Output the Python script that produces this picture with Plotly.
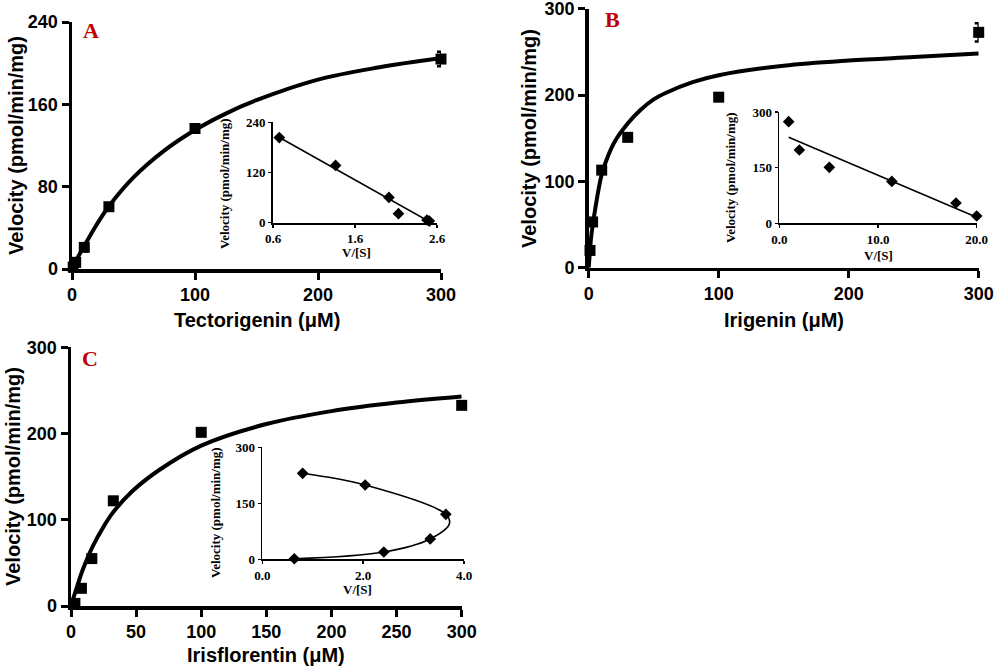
import plotly.graph_objects as go

# ---------------- data ----------------
# Panel A : Tectorigenin
A_conc = [1, 3, 10, 30, 100, 300]
A_vel = [1.8, 6.5, 21, 60.5, 136.5, 204]
A_err = [0, 0, 0, 0, 0, 7]
A_fit_x = [0, 3, 10, 20, 30, 50, 75, 100, 125, 150, 200, 250, 300]
A_fit_y = [0, 7.5, 22.5, 43, 61, 89, 115, 135, 151, 164, 184, 196, 205]
A_ins_x = [0.677, 1.363, 2.014, 2.13, 2.478, 2.506]
A_ins_y = [203.5, 136.8, 60.5, 21.5, 6.4, 4]
A_ins_fit_x = [0.668, 2.53]
A_ins_fit_y = [205, 0]

# Panel B : Irigenin
B_conc = [1, 3, 10, 30, 100, 300]
B_vel = [20, 53, 113, 151, 197.5, 272.6]
B_err = [0, 0, 0, 0, 0, 10.6]
B_fit_x = [0, 1, 2, 5, 10, 15, 20, 30, 40, 50, 60, 80, 100, 150, 200, 250, 300]
B_fit_y = [0, 20, 37, 68, 108, 130, 146, 167, 183, 195, 203, 215, 223, 234, 240, 244, 248]
B_ins_x = [0.95, 2.03, 5.07, 11.4, 17.9, 20.0]
B_ins_y = [273.9, 197.6, 151, 113, 54.7, 19.7]
B_ins_fit_x = [0.95, 20.0]
B_ins_fit_y = [231.8, 16.2]

# Panel C : Irisflorentin
C_conc = [3, 8, 16, 32.5, 100, 300]
C_vel = [3, 20.5, 55, 122, 201.4, 232.7]
C_err = [0, 0, 0, 0, 0, 0]
C_fit_x = [0, 2, 5, 9, 16.6, 25, 32, 47, 68, 100, 150, 200, 250, 300]
C_fit_y = [0, 10, 24, 42, 69, 92, 108, 133, 158, 186, 211, 226, 236, 243]
C_ins_x = [0.80, 2.04, 3.64, 3.33, 2.41, 0.635]
C_ins_y = [230.4, 199, 120.5, 54.5, 19.6, 1.5]
C_ins_curve_x = [0.80, 2.04, 3.64, 3.71, 3.33, 2.41, 0.635]
C_ins_curve_y = [230.4, 199, 120.5, 95, 54.5, 19.6, 1.5]

# tick labels
A_xticks = [0, 100, 200, 300]
A_yticks = [0, 80, 160, 240]
B_xticks = [0, 100, 200, 300]
B_yticks = [0, 100, 200, 300]
C_xticks = [0, 50, 100, 150, 200, 250, 300]
C_yticks = [0, 100, 200, 300]
A_ins_xticks = [0.6, 1.6, 2.6]
A_ins_xtext = ["0.6", "1.6", "2.6"]
A_ins_yticks = [0, 120, 240]
B_ins_xticks = [0, 10, 20]
B_ins_xtext = ["0.0", "10.0", "20.0"]
B_ins_yticks = [0, 150, 300]
C_ins_xticks = [0, 2, 4]
C_ins_xtext = ["0.0", "2.0", "4.0"]
C_ins_yticks = [0, 150, 300]

Y_TITLE = "Velocity (pmol/min/mg)"
INS_X_TITLE = "V/[S]"

# ---------------- layout helpers ----------------
# body margin is removed by post_script, so the figure fills the window
FW, FH = 996, 670
def px(x):
    return x / FW
def py(y):
    return 1 - y / FH

SANS = "Liberation Sans, Arial, sans-serif"
SERIF = "Liberation Serif, Times New Roman, serif"

fig = go.Figure()


def add_main(n, xs, ys, err, fx, fy):
    xa, ya = "x" + n, "y" + n
    fig.add_trace(go.Scatter(x=fx, y=fy, mode="lines",
                             line=dict(color="black", width=4, shape="spline"),
                             xaxis=xa, yaxis=ya, hoverinfo="skip", cliponaxis=False,
                             showlegend=False))
    fig.add_trace(go.Scatter(x=xs, y=ys, mode="markers",
                             marker=dict(symbol="square", size=11, color="black"),
                             error_y=dict(type="data", array=err, visible=True, color="black",
                                          thickness=2.5, width=4),
                             xaxis=xa, yaxis=ya, cliponaxis=False, showlegend=False))


def add_inset(n, xs, ys, lx, ly, spline=False):
    xa, ya = "x" + n, "y" + n
    fig.add_trace(go.Scatter(x=lx, y=ly, mode="lines",
                             line=dict(color="black", width=1.6,
                                       shape="spline" if spline else "linear"),
                             xaxis=xa, yaxis=ya, hoverinfo="skip", cliponaxis=False,
                             showlegend=False))
    fig.add_trace(go.Scatter(x=xs, y=ys, mode="markers",
                             marker=dict(symbol="diamond", size=9, color="black"),
                             xaxis=xa, yaxis=ya, cliponaxis=False, showlegend=False))


add_main("", A_conc, A_vel, A_err, A_fit_x, A_fit_y)
add_inset("2", A_ins_x, A_ins_y, A_ins_fit_x, A_ins_fit_y)
add_main("3", B_conc, B_vel, B_err, B_fit_x, B_fit_y)
add_inset("4", B_ins_x, B_ins_y, B_ins_fit_x, B_ins_fit_y)
add_main("5", C_conc, C_vel, C_err, C_fit_x, C_fit_y)
add_inset("6", C_ins_x, C_ins_y, C_ins_curve_x, C_ins_curve_y, spline=True)


def main_axis(dom, rng, ticks, anchor):
    return dict(domain=dom, range=rng, tickvals=ticks, anchor=anchor,
                automargin=False, ticklabeloverflow="allow",
                showline=True, linewidth=3.5, linecolor="black", mirror=False,
                ticks="outside", ticklen=7, tickwidth=3, tickcolor="black",
                showgrid=False, zeroline=False, fixedrange=True,
                tickfont=dict(family=SANS, size=18, color="black", weight="bold"))


def inset_axis(dom, rng, ticks, anchor, text=None):
    d = dict(domain=dom, range=rng, tickvals=ticks, anchor=anchor,
             automargin=False, ticklabeloverflow="allow",
             showline=True, linewidth=1.8, linecolor="black",
             ticks="outside", ticklen=3, tickwidth=1.5, tickcolor="black",
             showgrid=False, zeroline=False, fixedrange=True,
             tickfont=dict(family=SERIF, size=13, color="black", weight="bold"))
    if text is not None:
        d["ticktext"] = text
    return d


fig.update_layout(
    template="none",
    width=FW, height=FH,
    margin=dict(l=0, r=0, t=0, b=0, pad=0, autoexpand=False),
    paper_bgcolor="white", plot_bgcolor="rgba(0,0,0,0)",
    showlegend=False,
    xaxis=main_axis([px(72), px(441)], [0, 300], A_xticks, "y"),
    yaxis=main_axis([py(269), py(22)], [0, 240], A_yticks, "x"),
    xaxis2=inset_axis([px(273), px(437)], [0.6, 2.6], A_ins_xticks, "y2", A_ins_xtext),
    yaxis2=inset_axis([py(222.7), py(122.3)], [0, 240], A_ins_yticks, "x2"),
    xaxis3=main_axis([px(588.7), px(978.7)], [0, 300], B_xticks, "y3"),
    yaxis3=main_axis([py(267.7), py(8.7)], [0, 300], B_yticks, "x3"),
    xaxis4=inset_axis([px(779.3), px(976.7)], [0, 20], B_ins_xticks, "y4", B_ins_xtext),
    yaxis4=inset_axis([py(223.3), py(112)], [0, 300], B_ins_yticks, "x4"),
    xaxis5=main_axis([px(71), px(461.7)], [0, 300], C_xticks, "y5"),
    yaxis5=main_axis([py(606), py(347.3)], [0, 300], C_yticks, "x5"),
    xaxis6=inset_axis([px(262.3), px(464)], [0, 4], C_ins_xticks, "y6", C_ins_xtext),
    yaxis6=inset_axis([py(559.3), py(447.3)], [0, 300], C_ins_yticks, "x6"),
)

ann = []


def text(x, y, s, font, angle=0):
    ann.append(dict(x=px(x), y=py(y), xref="paper", yref="paper", text=s,
                    showarrow=False, xanchor="center", yanchor="middle",
                    textangle=angle, font=font))


main_title_font = dict(family=SANS, size=20, color="black", weight="bold")
inset_title_font = dict(family=SERIF, size=13, color="black", weight="bold")
letter_font = dict(family=SERIF, size=22, color="#C00000", weight="bold")

# main axis titles
text(256.5, 320, "Tectorigenin (μM)", main_title_font)
text(16, 146, Y_TITLE, main_title_font, -90)
text(783.7, 320, "Irigenin (μM)", main_title_font)
text(529, 139, Y_TITLE, main_title_font, -90)
text(266, 655, "Irisflorentin (μM)", main_title_font)
text(13, 477, Y_TITLE, main_title_font, -90)

# inset titles
text(225, 184, Y_TITLE, inset_title_font, -90)
text(356, 252, INS_X_TITLE, inset_title_font)
text(731, 178, Y_TITLE, inset_title_font, -90)
text(878, 256, INS_X_TITLE, inset_title_font)
text(215, 513, Y_TITLE, inset_title_font, -90)
text(357, 589, INS_X_TITLE, inset_title_font)

# panel letters
text(91, 31, "A", letter_font)
text(612, 20, "B", letter_font)
text(90, 358, "C", letter_font)

fig.update_layout(annotations=ann)

fig.write_html("out.html",
               config={"displayModeBar": False, "staticPlot": True},
               post_script="document.body.style.margin='0';"
                           "document.body.style.overflow='hidden';")
